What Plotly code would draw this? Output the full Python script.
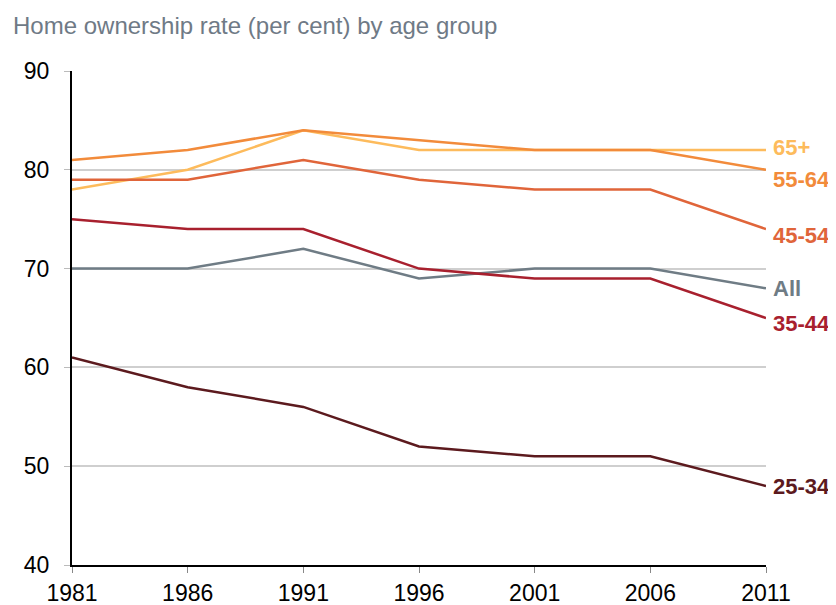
import plotly.graph_objects as go

years = [1981, 1986, 1991, 1996, 2001, 2006, 2011]
series_names = ["65+", "55-64", "45-54", "All", "35-44", "25-34"]
s_65plus = [78, 80, 84, 82, 82, 82, 82]
s_55_64 = [81, 82, 84, 83, 82, 82, 80]
s_45_54 = [79, 79, 81, 79, 78, 78, 74]
s_all = [70, 70, 72, 69, 70, 70, 68]
s_35_44 = [75, 74, 74, 70, 69, 69, 65]
s_25_34 = [61, 58, 56, 52, 51, 51, 48]
values = [s_65plus, s_55_64, s_45_54, s_all, s_35_44, s_25_34]
colors = ["#FDBB5C", "#F28B3B", "#E0653A", "#6F7C85", "#A8202E", "#5C1A1E"]
label_yshift = [3, -10, -6, 0, -5, -1]

base_font = "Liberation Sans, Arial, sans-serif"

fig = go.Figure()
for name, vals, col in zip(series_names, values, colors):
    fig.add_trace(go.Scatter(x=years, y=vals, mode="lines", name=name,
                             line=dict(color=col, width=2.5), showlegend=False))
for name, vals, col, dy in zip(series_names, values, colors, label_yshift):
    fig.add_annotation(x=years[-1], y=vals[-1], text="<b>%s</b>" % name, showarrow=False,
                       xanchor="left", yanchor="middle", xshift=5, yshift=dy,
                       font=dict(color=col, size=22, family=base_font))

fig.update_layout(
    width=836, height=605,
    margin=dict(l=64, r=78, t=63, b=48, autoexpand=False),
    plot_bgcolor="white", paper_bgcolor="white",
    font=dict(family=base_font, size=23, color="black"),
    title=dict(text="Home ownership rate (per cent) by age group", x=0.006, xanchor="left",
               y=0.985, yanchor="top",
               font=dict(size=24, color="#6F7A86", family=base_font)),
)
fig.update_xaxes(range=[1981, 2011], tickvals=years, ticktext=[str(y) for y in years],
                 showgrid=False, showline=True, linecolor="black", linewidth=2,
                 ticks="outside", ticklen=6, tickcolor="#888888", zeroline=False)
fig.update_yaxes(range=[40, 90], tickvals=[40, 50, 60, 70, 80, 90], showgrid=True,
                 gridcolor="#CFCFCF", gridwidth=1.5, showline=True, linecolor="black",
                 linewidth=2, ticks="outside", ticklen=6, tickcolor="#BBBBBB", zeroline=False,
                 ticklabelstandoff=10)

fig.write_html("out.html")
